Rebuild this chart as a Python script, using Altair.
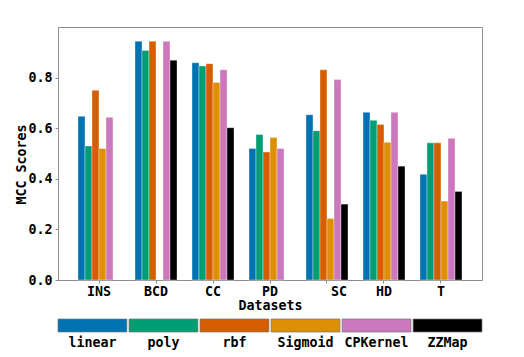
import altair as alt
import pandas as pd

datasets = ["INS", "BCD", "CC", "PD", "SC", "HD", "T"]
methods = ["linear", "poly", "rbf", "Sigmoid", "CPKernel", "ZZMap"]
colors = ["#0173b2", "#029e73", "#d55e00", "#de8f05", "#cc78bc", "#000000"]

linear   = [0.647, 0.944, 0.859, 0.520, 0.653, 0.663, 0.418]
poly     = [0.530, 0.907, 0.846, 0.575, 0.590, 0.631, 0.542]
rbf      = [0.750, 0.944, 0.855, 0.506, 0.831, 0.615, 0.542]
sigmoid  = [0.520, None,  0.781, 0.563, 0.243, 0.544, 0.312]
cpkernel = [0.643, 0.944, 0.831, 0.520, 0.792, 0.663, 0.560]
zzmap    = [None,  0.869, 0.602, None,  0.300, 0.450, 0.350]

series = [linear, poly, rbf, sigmoid, cpkernel, zzmap]
rows = []
for m, vals in zip(methods, series):
    for d, v in zip(datasets, vals):
        if v is not None:
            rows.append({"Dataset": d, "Method": m, "MCC": v})
df = pd.DataFrame(rows)
leg_df = pd.DataFrame({"Method": methods})

FONT = "DejaVu Sans Mono"
GRAY = "#8c8c8c"

color_scale = alt.Scale(domain=methods, range=colors)

bars = alt.Chart(df).mark_bar(
    stroke="white", strokeWidth=0.6, strokeOpacity=0.6
).encode(
    x=alt.X("Dataset:N", sort=datasets,
            scale=alt.Scale(paddingInner=0.263, paddingOuter=0.351),
            axis=alt.Axis(title="Datasets", labelAngle=0, labelFont=FONT,
                          labelFontWeight="bold", labelFontSize=13.3,
                          labelColor="black", labelPadding=1,
                          labelOffset={"condition": {"test": "datum.label == 'SC'", "value": 12},
                                       "value": 0},
                          tickSize=3, tickColor=GRAY, domainColor=GRAY,
                          titleFont=FONT, titleFontWeight="bold", titleFontSize=13.3,
                          titleColor="black", titleX=212, titleY=25,
                          titleBaseline="middle", titleAlign="center")),
    xOffset=alt.XOffset("Method:N", sort=methods,
                        scale=alt.Scale(domain=methods, paddingInner=0, paddingOuter=0)),
    y=alt.Y("MCC:Q", scale=alt.Scale(domain=[0, 1.0], nice=False),
            axis=alt.Axis(title="MCC Scores", values=[0, 0.2, 0.4, 0.6, 0.8],
                          format=".1f", grid=False, labelFont=FONT,
                          labelFontWeight="bold", labelFontSize=13.3,
                          labelColor="black", labelPadding=3,
                          tickSize=3, tickColor=GRAY, domainColor=GRAY,
                          titleFont=FONT, titleFontWeight="bold", titleFontSize=13.3,
                          titleColor="black", titleAngle=270, titleX=-37, titleY=137,
                          titleBaseline="middle", titleAlign="center")),
    color=alt.Color("Method:N", scale=color_scale, legend=None),
).properties(width=424, height=253)

leg_base = alt.Chart(leg_df).encode(
    x=alt.X("Method:N", sort=methods, axis=None,
            scale=alt.Scale(paddingInner=0.03, paddingOuter=0)),
)
leg_rect = leg_base.mark_bar(stroke="#777777", strokeWidth=0.7).encode(
    y=alt.value(0), y2=alt.value(13),
    color=alt.Color("Method:N", scale=color_scale, legend=None),
)
leg_text = leg_base.mark_text(font=FONT, fontWeight="bold", fontSize=13.3,
                              baseline="middle", color="black").encode(
    y=alt.value(24), text="Method:N",
)
legend = (leg_rect + leg_text).properties(width=424, height=40, view=alt.ViewConfig(stroke=None))

chart = alt.vconcat(bars, legend, spacing=39).properties(
    bounds="flush",
    padding={"left": 5, "top": 18, "right": 0, "bottom": 0},
).configure_view(stroke=GRAY, strokeWidth=1)

chart.save("out.html", embed_options={"renderer": "svg", "actions": False})
